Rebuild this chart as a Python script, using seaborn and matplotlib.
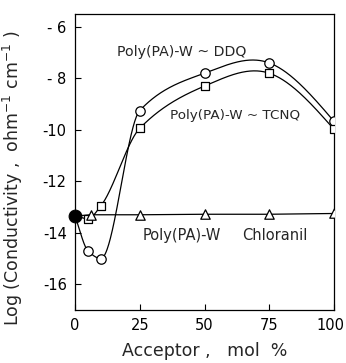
import numpy as np
import pandas as pd
import matplotlib
matplotlib.use("Agg")
import matplotlib.pyplot as plt
import matplotlib.transforms as mtransforms
import seaborn as sns

# ---- data ----
ddq_x = [0, 5, 10, 25, 50, 75, 100]
ddq_y = [-13.35, -14.7, -15.0, -9.25, -7.8, -7.4, -9.67]
tcnq_x = [0, 5, 10, 25, 50, 75, 100]
tcnq_y = [-13.35, -13.45, -12.95, -9.94, -8.3, -7.8, -9.98]
chl_x = [0, 6, 25, 50, 75, 100]
chl_y = [-13.35, -13.3, -13.3, -13.28, -13.28, -13.25]
base_x = [0]
base_y = [-13.35]
xticks = [0, 25, 50, 75, 100]
yticks = [-6, -8, -10, -12, -14, -16]
ytick_labels = ["- 6", "- 8", "-10", "-12", "-14", "-16"]


def smooth_curve(x, y, n=500):
    """Hermite curve through the points: monotone tangents on the low part,
    centred tangents on the broad arc."""
    x = np.asarray(x, float)
    y = np.asarray(y, float)
    h = np.diff(x)
    d = np.diff(y) / h
    m = np.zeros_like(y)
    for k in range(1, len(x) - 1):
        if x[k] >= 50:
            m[k] = (y[k + 1] - y[k - 1]) / (x[k + 1] - x[k - 1])
        elif d[k - 1] * d[k] > 0:
            w1 = 2 * h[k] + h[k - 1]
            w2 = h[k] + 2 * h[k - 1]
            m[k] = (w1 + w2) / (w1 / d[k - 1] + w2 / d[k])
    m[0] = d[0]
    m[-1] = 1.5 * d[-1] - 0.5 * m[-2]
    xs = np.linspace(x[0], x[-1], n)
    idx = np.clip(np.searchsorted(x, xs) - 1, 0, len(x) - 2)
    t = (xs - x[idx]) / h[idx]
    h00 = 2 * t**3 - 3 * t**2 + 1
    h10 = t**3 - 2 * t**2 + t
    h01 = -2 * t**3 + 3 * t**2
    h11 = t**3 - t**2
    ys = h00 * y[idx] + h10 * h[idx] * m[idx] + h01 * y[idx + 1] + h11 * h[idx] * m[idx + 1]
    return xs, ys


sns.set_style("ticks")
plt.rcParams["font.family"] = ["DejaVu Sans"]

fig = plt.figure(figsize=(3.46, 3.63), dpi=100)
ax = fig.add_axes([0.2168, 0.146, 0.7485, 0.8154])

for xv, yv in [(ddq_x, ddq_y), (tcnq_x, tcnq_y)]:
    sx, sy = smooth_curve(xv, yv)
    sns.lineplot(x=sx, y=sy, ax=ax, color="black", lw=0.9, sort=False, estimator=None)
sns.lineplot(x=chl_x, y=chl_y, ax=ax, color="black", lw=0.9, estimator=None)

sns.scatterplot(x=ddq_x[1:], y=ddq_y[1:], ax=ax, marker="o", s=46,
                facecolor="white", edgecolor="black", linewidth=0.9, zorder=5)
sns.scatterplot(x=tcnq_x[1:], y=tcnq_y[1:], ax=ax, marker="s", s=40,
                facecolor="white", edgecolor="black", linewidth=0.9, zorder=5)
sns.scatterplot(x=chl_x[1:], y=chl_y[1:], ax=ax, marker="^", s=46,
                facecolor="white", edgecolor="black", linewidth=0.9, zorder=5)
sns.scatterplot(x=base_x, y=base_y, ax=ax, marker="o", s=85,
                color="black", edgecolor="black", zorder=6, clip_on=False)

ax.set_xlim(0, 100)
ax.set_ylim(-17, -5.5)
ax.set_xticks(xticks)
ax.set_xticklabels([str(v) for v in xticks])
ax.set_yticks(yticks)
ax.set_yticklabels(ytick_labels)
ax.tick_params(direction="in", length=4, width=0.8, labelsize=10.5, colors="black", pad=6)
for sp in ax.spines.values():
    sp.set_visible(True)
    sp.set_color("black")
    sp.set_linewidth(0.9)

# nudge the last x tick label left so it stays inside the figure
last = ax.get_xticklabels()[-1]
last.set_transform(last.get_transform() +
                   mtransforms.ScaledTranslation(-4 / 100, 0, fig.dpi_scale_trans))

ax.text(16.2, -6.98, "Poly(PA)-W ~ DDQ", fontsize=10.2, va="center", ha="left")
ax.text(36.7, -9.43, "Poly(PA)-W ~ TCNQ", fontsize=9.7, va="center", ha="left")
ax.text(26.3, -14.1, "Poly(PA)-W", fontsize=10.5, va="center", ha="left")
ax.text(64.5, -14.1, "Chloranil", fontsize=10.5, va="center", ha="left")

ax.set_xlabel("Acceptor ,   mol  %", fontsize=12.5, labelpad=6)
ax.set_ylabel("Log (Conductivity ,  ohm$^{-1}$ cm$^{-1}$ )", fontsize=12.5)
ax.yaxis.set_label_coords(-0.195, 0.446)

fig.savefig("out.png", dpi=100)
